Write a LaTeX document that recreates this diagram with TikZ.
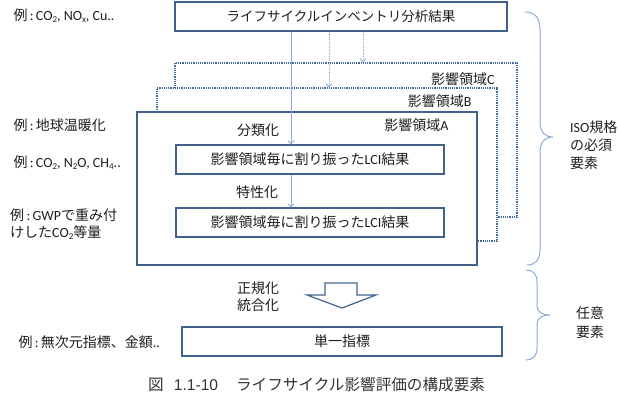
\documentclass[tikz,border=0pt]{standalone}
\usepackage{fontspec}
\setmainfont{Carlito}
\newfontfamily\jp{Noto Sans CJK JP}
\newfontfamily\ar{Liberation Sans}
\usetikzlibrary{arrows.meta}
\newcommand{\J}[1]{{\jp #1}}
\newcommand{\sbs}[1]{\raisebox{-0.3ex}{\fontsize{9}{9}\selectfont #1}}
\newcommand{\rei}{\J{例}\,:\,}
\definecolor{boxblue}{RGB}{65,98,143}
\definecolor{dotblue}{RGB}{70,105,160}
\definecolor{arrblue}{RGB}{140,170,215}
\definecolor{txt}{RGB}{30,30,30}
\begin{document}
\begin{tikzpicture}[x=1pt,y=-1pt,
  every node/.style={text=txt,font=\fontsize{14}{17}\selectfont},
  solidbox/.style={draw=boxblue,line width=1.2pt,fill=white,inner sep=0pt},
  dotbox/.style={draw=dotblue,line width=1.2pt,densely dotted,fill=white,inner sep=0pt},
  thinarrow/.style={draw=arrblue,line width=0.9pt,-{Straight Barb[length=3pt,width=6pt]}},
  dotarrow/.style={draw=arrblue,line width=0.9pt,densely dotted,-{Straight Barb[length=3pt,width=6pt]}},
  brace/.style={draw=arrblue,line width=1pt}]
\useasboundingbox (0,0) rectangle (618,405);
% stacked impact areas
\node[dotbox,minimum width=342pt,minimum height=154pt] (areaC) at (346,140) {};
\node[dotbox,minimum width=340pt,minimum height=153pt] (areaB) at (327,164.5) {};
\node[solidbox,minimum width=340pt,minimum height=153pt] (areaA) at (307,188.5) {};
% boxes
\node[solidbox,minimum width=332pt,minimum height=29pt,font=\fontsize{13.5}{16}\selectfont] (top) at (341,16.5) {\J{ライフサイクルインベントリ分析結果}};
\node[solidbox,minimum width=268pt,minimum height=29pt] (box1) at (310,159.5) {\J{影響領域毎に割り振った}LCI\J{結果}};
\node[solidbox,minimum width=268pt,minimum height=29pt] (box2) at (310,222.5) {\J{影響領域毎に割り振った}LCI\J{結果}};
\node[solidbox,minimum width=320pt,minimum height=29pt] (single) at (342,341.5) {\J{単一指標}};
% connectors
\coordinate (c1) at (291,0);
\coordinate (c2) at (329,0);
\coordinate (c3) at (363,0);
\draw[thinarrow] (top.south -| c1) -- (box1.north -| c1);
\draw[thinarrow] (box1.south -| c1) -- (box2.north -| c1);
\draw[dotarrow] (top.south -| c2) -- (areaB.north -| c2);
\draw[dotarrow] (top.south -| c3) -- (areaC.north -| c3);
% hollow arrow
\draw[boxblue,line width=1.2pt,line join=miter] (325,283) -- (357,283) -- (357,295) -- (376,295) -- (342,308) -- (307,295) -- (325,295) -- cycle;
% labels in areas
\node[anchor=east] (labC) at (498,79) {\J{影響領域}C};
\node[anchor=east] (labB) at (475,101) {\J{影響領域}B};
\node[anchor=east] (labA) at (452,125) {\J{影響領域}A};
\node (bunrui) at (258,130) {\J{分類化}};
\node (tokusei) at (257,192) {\J{特性化}};
\node (seiki) at (258,288) {\J{正規化}};
\node (tougou) at (258,305) {\J{統合化}};
% left examples
\node[anchor=west] (ex1) at (10,16) {\rei CO\sbs{2}, NO\sbs{x}, Cu..};
\node[anchor=west] (ex2) at (10,125) {\rei\J{地球温暖化}};
\node[anchor=west] (ex3) at (10,163) {\rei CO\sbs{2}, N\sbs{2}O, CH\sbs{4}..};
\node[anchor=west,align=left,inner sep=0pt] (ex4) at (10,224.5) {\rei GWP\J{で重み付}\\[0pt]\J{けした}CO\sbs{2}\J{等量}};
\node[anchor=west] (ex5) at (15,342) {\rei\J{無次元指標、金額}..};
% braces
\draw[brace] (525,12) .. controls (535,12) and (540,18) .. (540,30) -- (540,122) .. controls (540,132) and (545,137) .. (553,137) .. controls (545,137) and (540,142) .. (540,152) -- (540,250) .. controls (540,260) and (535,265) .. (527,265);
\draw[brace] (526,270) .. controls (533,270) and (537,274) .. (537,282) -- (537,306) .. controls (537,312) and (542,315) .. (550,315) .. controls (542,315) and (537,318) .. (537,324) -- (537,348) .. controls (537,356) and (533,360) .. (526,360);
\node[anchor=west,align=left,inner sep=0pt,font=\fontsize{14}{18}\selectfont] (iso) at (570,145) {ISO\J{規格}\\\J{の必須}\\\J{要素}};
\node[anchor=west,align=left,inner sep=0pt,font=\fontsize{14}{19}\selectfont] (nin) at (576,322.5) {\J{任意}\\\J{要素}};
% caption
\node[anchor=west,inner sep=0pt,font=\fontsize{15.6}{17}\selectfont,text=black!80] (cap) at (148,385) {\J{図}\hspace{0.65em}{\ar 1.1-10}\hspace{1.15em}\J{ライフサイクル影響評価の構成要素}};
\end{tikzpicture}
\end{document}
